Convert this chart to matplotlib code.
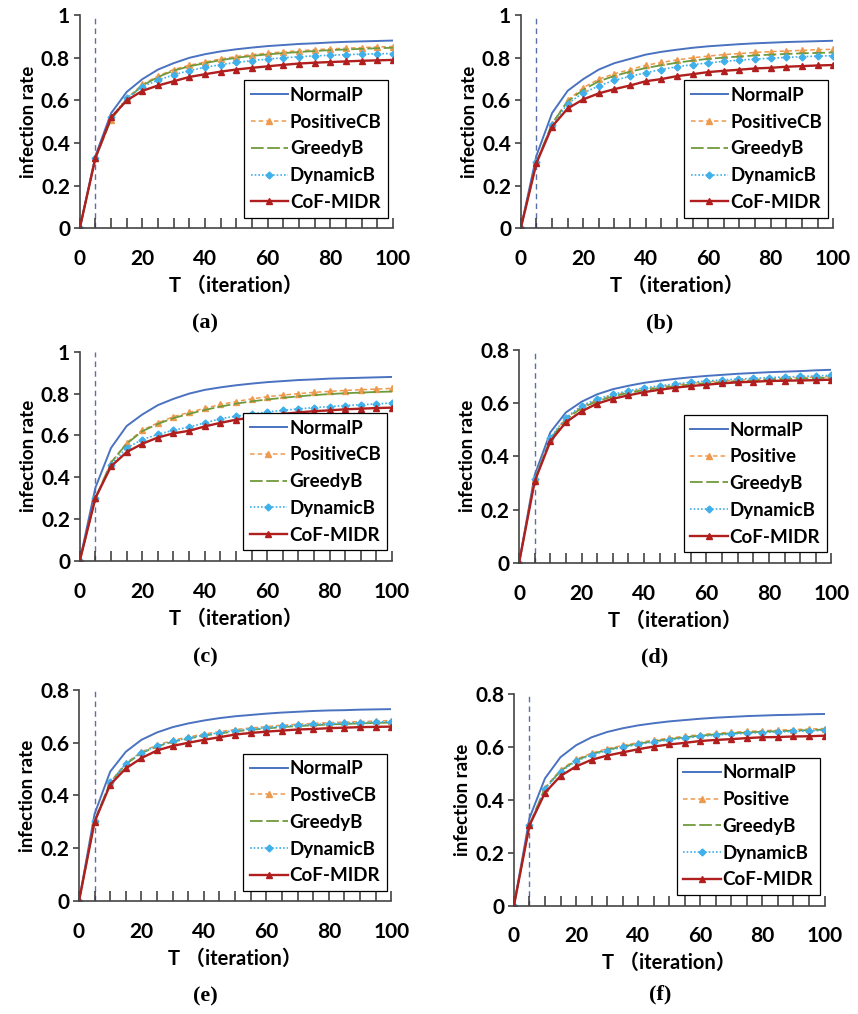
import matplotlib
matplotlib.use("Agg")
import matplotlib.pyplot as plt
from matplotlib.ticker import MultipleLocator

# iteration steps (x)
T = [0, 5, 10, 15, 20, 25, 30, 35, 40, 45, 50, 55, 60, 65, 70, 75, 80, 85, 90, 95, 100]

series_names = ["NormalP", "PositiveCB", "GreedyB", "DynamicB", "CoF-MIDR"]
panel_tags = ["(a)", "(b)", "(c)", "(d)", "(e)", "(f)"]
# second legend entry changes spelling between panels
positive_labels = ["PositiveCB", "PositiveCB", "PositiveCB", "Positive", "PostiveCB", "Positive"]
y_top = [1.0, 1.0, 1.0, 0.8, 0.8, 0.8]

# ---------------- panel (a)
a_normal = [0, 0.34, 0.54, 0.64, 0.70, 0.745, 0.775, 0.80, 0.817, 0.83, 0.84, 0.848, 0.855, 0.86, 0.865, 0.868, 0.872, 0.875, 0.877, 0.879, 0.881]
a_positive = [0, 0.33, 0.51, 0.61, 0.675, 0.715, 0.745, 0.765, 0.78, 0.795, 0.806, 0.815, 0.822, 0.828, 0.833, 0.838, 0.842, 0.845, 0.848, 0.851, 0.853]
a_greedy = [0, 0.33, 0.51, 0.605, 0.67, 0.71, 0.74, 0.76, 0.775, 0.789, 0.80, 0.809, 0.816, 0.822, 0.827, 0.832, 0.836, 0.839, 0.842, 0.845, 0.847]
a_dynamic = [0, 0.33, 0.52, 0.61, 0.665, 0.695, 0.72, 0.74, 0.755, 0.768, 0.778, 0.787, 0.794, 0.80, 0.805, 0.809, 0.812, 0.815, 0.817, 0.819, 0.82]
a_cof = [0, 0.33, 0.52, 0.60, 0.645, 0.67, 0.69, 0.71, 0.723, 0.735, 0.745, 0.753, 0.76, 0.767, 0.773, 0.777, 0.78, 0.783, 0.786, 0.788, 0.79]

# ---------------- panel (b)
b_normal = [0, 0.34, 0.54, 0.645, 0.70, 0.745, 0.775, 0.795, 0.815, 0.828, 0.838, 0.847, 0.854, 0.859, 0.864, 0.868, 0.871, 0.874, 0.876, 0.878, 0.88]
b_positive = [0, 0.31, 0.49, 0.60, 0.66, 0.70, 0.725, 0.745, 0.765, 0.778, 0.79, 0.80, 0.808, 0.815, 0.82, 0.825, 0.829, 0.832, 0.835, 0.838, 0.84]
b_greedy = [0, 0.31, 0.49, 0.595, 0.65, 0.69, 0.715, 0.735, 0.752, 0.765, 0.777, 0.787, 0.795, 0.801, 0.806, 0.811, 0.815, 0.818, 0.821, 0.823, 0.825]
b_dynamic = [0, 0.31, 0.485, 0.585, 0.635, 0.668, 0.695, 0.713, 0.73, 0.745, 0.758, 0.768, 0.776, 0.783, 0.789, 0.794, 0.798, 0.802, 0.805, 0.808, 0.81]
b_cof = [0, 0.305, 0.477, 0.562, 0.605, 0.633, 0.653, 0.67, 0.69, 0.70, 0.714, 0.723, 0.733, 0.739, 0.744, 0.75, 0.753, 0.758, 0.761, 0.764, 0.766]

# ---------------- panel (c)
c_normal = [0, 0.35, 0.54, 0.645, 0.70, 0.745, 0.775, 0.80, 0.818, 0.83, 0.84, 0.848, 0.855, 0.86, 0.865, 0.868, 0.872, 0.874, 0.876, 0.878, 0.88]
c_positive = [0, 0.30, 0.47, 0.565, 0.625, 0.66, 0.69, 0.71, 0.73, 0.748, 0.762, 0.775, 0.785, 0.793, 0.80, 0.806, 0.811, 0.815, 0.819, 0.822, 0.825]
c_greedy = [0, 0.30, 0.47, 0.56, 0.62, 0.655, 0.683, 0.703, 0.722, 0.738, 0.752, 0.763, 0.772, 0.78, 0.787, 0.793, 0.798, 0.802, 0.805, 0.808, 0.81]
c_dynamic = [0, 0.30, 0.46, 0.54, 0.58, 0.605, 0.625, 0.64, 0.66, 0.68, 0.692, 0.703, 0.712, 0.72, 0.727, 0.733, 0.738, 0.743, 0.747, 0.751, 0.755]
c_cof = [0, 0.30, 0.452, 0.52, 0.56, 0.59, 0.61, 0.622, 0.643, 0.66, 0.675, 0.686, 0.695, 0.703, 0.71, 0.716, 0.72, 0.725, 0.728, 0.731, 0.733]

# ---------------- panel (d)
d_normal = [0, 0.33, 0.49, 0.565, 0.605, 0.633, 0.652, 0.665, 0.676, 0.684, 0.691, 0.697, 0.702, 0.706, 0.71, 0.713, 0.716, 0.718, 0.72, 0.723, 0.725]
d_positive = [0, 0.315, 0.468, 0.542, 0.586, 0.612, 0.629, 0.642, 0.653, 0.661, 0.668, 0.674, 0.679, 0.683, 0.686, 0.689, 0.692, 0.694, 0.696, 0.697, 0.699]
d_greedy = [0, 0.315, 0.465, 0.538, 0.582, 0.607, 0.625, 0.638, 0.649, 0.657, 0.664, 0.67, 0.675, 0.679, 0.682, 0.685, 0.688, 0.69, 0.692, 0.694, 0.695]
d_dynamic = [0, 0.315, 0.47, 0.545, 0.59, 0.615, 0.633, 0.646, 0.657, 0.665, 0.672, 0.678, 0.683, 0.687, 0.69, 0.693, 0.696, 0.698, 0.70, 0.702, 0.704]
d_cof = [0, 0.306, 0.456, 0.528, 0.569, 0.598, 0.616, 0.629, 0.641, 0.65, 0.658, 0.664, 0.669, 0.674, 0.678, 0.68, 0.683, 0.684, 0.685, 0.686, 0.688]

# ---------------- panel (e)
e_normal = [0, 0.33, 0.49, 0.565, 0.61, 0.638, 0.658, 0.672, 0.683, 0.692, 0.699, 0.704, 0.709, 0.713, 0.716, 0.719, 0.721, 0.722, 0.724, 0.725, 0.726]
e_positive = [0, 0.305, 0.45, 0.522, 0.565, 0.59, 0.608, 0.621, 0.632, 0.641, 0.649, 0.655, 0.66, 0.665, 0.669, 0.672, 0.675, 0.677, 0.679, 0.681, 0.683]
e_greedy = [0, 0.305, 0.448, 0.518, 0.56, 0.585, 0.603, 0.615, 0.626, 0.634, 0.642, 0.648, 0.653, 0.658, 0.662, 0.665, 0.668, 0.67, 0.672, 0.674, 0.675]
e_dynamic = [0, 0.305, 0.45, 0.52, 0.562, 0.587, 0.605, 0.617, 0.628, 0.637, 0.645, 0.651, 0.656, 0.661, 0.665, 0.668, 0.671, 0.673, 0.675, 0.677, 0.679]
e_cof = [0, 0.30, 0.441, 0.502, 0.541, 0.57, 0.587, 0.599, 0.61, 0.62, 0.63, 0.636, 0.641, 0.645, 0.649, 0.651, 0.654, 0.656, 0.658, 0.659, 0.66]

# ---------------- panel (f)
f_normal = [0, 0.33, 0.48, 0.56, 0.605, 0.635, 0.655, 0.669, 0.68, 0.688, 0.695, 0.70, 0.705, 0.709, 0.712, 0.715, 0.717, 0.719, 0.72, 0.722, 0.723]
f_positive = [0, 0.305, 0.445, 0.512, 0.552, 0.575, 0.592, 0.604, 0.615, 0.624, 0.632, 0.639, 0.645, 0.65, 0.654, 0.657, 0.66, 0.662, 0.664, 0.666, 0.668]
f_greedy = [0, 0.305, 0.443, 0.508, 0.548, 0.571, 0.588, 0.6, 0.611, 0.62, 0.628, 0.635, 0.641, 0.646, 0.65, 0.653, 0.656, 0.658, 0.66, 0.662, 0.664]
f_dynamic = [0, 0.305, 0.44, 0.505, 0.545, 0.568, 0.585, 0.597, 0.608, 0.617, 0.625, 0.632, 0.638, 0.643, 0.647, 0.65, 0.653, 0.655, 0.657, 0.659, 0.661]
f_cof = [0, 0.302, 0.426, 0.489, 0.525, 0.55, 0.566, 0.578, 0.59, 0.60, 0.608, 0.614, 0.621, 0.625, 0.628, 0.632, 0.635, 0.636, 0.638, 0.639, 0.641]

panels = [
    [a_normal, a_positive, a_greedy, a_dynamic, a_cof],
    [b_normal, b_positive, b_greedy, b_dynamic, b_cof],
    [c_normal, c_positive, c_greedy, c_dynamic, c_cof],
    [d_normal, d_positive, d_greedy, d_dynamic, d_cof],
    [e_normal, e_positive, e_greedy, e_dynamic, e_cof],
    [f_normal, f_positive, f_greedy, f_dynamic, f_cof],
]

# line styles per series: color, linestyle, marker, linewidth
styles = [
    dict(color="#4a72c0", ls="-", marker=None, lw=1.4),
    dict(color="#ee9a4e", ls=(0, (3, 2)), marker="^", lw=1.1),
    dict(color="#6f9a3c", ls=(0, (7, 2)), marker=None, lw=1.3),
    dict(color="#3fb0ea", ls=(0, (1, 1.2)), marker="D", lw=1.2),
    dict(color="#b01e1e", ls="-", marker="^", lw=1.7),
]

# axes rectangles [left, bottom, width, height] in figure fraction
rects = [
    [0.093, 0.775, 0.365, 0.210],
    [0.607, 0.775, 0.364, 0.210],
    [0.093, 0.447, 0.364, 0.206],
    [0.605, 0.445, 0.364, 0.210],
    [0.092, 0.111, 0.364, 0.209],
    [0.599, 0.107, 0.362, 0.209],
]
caption_pos = [(0.239, 0.681), (0.769, 0.681), (0.239, 0.352), (0.763, 0.352), (0.239, 0.017), (0.769, 0.019)]

fam = ["Lato", "Noto Sans CJK SC", "DejaVu Sans"]
plt.rcParams["font.family"] = fam
plt.rcParams["font.weight"] = "bold"

fig = plt.figure(figsize=(8.58, 10.14), dpi=100)

for i in range(6):
    ax = fig.add_axes(rects[i])
    data = panels[i]
    labels = list(series_names)
    labels[1] = positive_labels[i]

    # dashed marker line at T=5
    ax.axvline(5, color="#5a6ea8", ls=(0, (4, 3)), lw=1.0, zorder=1)

    for k in range(5):
        st = styles[k]
        ms = 4.5 if st["marker"] == "^" else 3.5
        ax.plot(T, data[k], color=st["color"], ls=st["ls"], lw=st["lw"],
                marker=st["marker"], ms=ms, markeredgecolor=st["color"],
                label=labels[k], zorder=2 + k * 0.1 if k < 4 else 3)

    ax.set_xlim(0, 100)
    ax.set_ylim(0, y_top[i])
    ax.spines["top"].set_visible(False)
    ax.spines["right"].set_visible(False)
    ax.spines["left"].set_color("#444444")
    ax.spines["bottom"].set_color("#444444")
    ax.spines["left"].set_linewidth(1.2)
    ax.spines["bottom"].set_linewidth(1.2)
    ax.spines["bottom"].set_zorder(5)

    ax.xaxis.set_major_locator(MultipleLocator(20))
    ax.xaxis.set_minor_locator(MultipleLocator(5))
    ax.tick_params(axis="x", which="both", direction="in", length=7, width=1.1,
                   color="#333333", pad=15, labelsize=15)
    ax.tick_params(axis="y", which="major", direction="out", length=4, width=1.1,
                   color="#333333", pad=3, labelsize=15)
    steps = list(range(0, int(round(y_top[i] * 10)) + 1, 2))
    ax.set_yticks([v / 10 for v in steps])
    ax.set_yticklabels(["0" if v == 0 else ("1" if v == 10 else "0.%d" % v) for v in steps])
    for lab in ax.get_xticklabels() + ax.get_yticklabels():
        lab.set_fontweight("bold")

    ax.set_xlabel("T （iteration）", fontsize=14.5, fontweight="bold", labelpad=5)
    ax.set_ylabel("infection rate", fontsize=13.5, fontweight="bold", labelpad=3)

    leg = ax.legend(loc="lower right", bbox_to_anchor=(0.985, 0.05), frameon=True,
                    fancybox=False, edgecolor="black", framealpha=1,
                    prop=dict(family=fam, weight="bold", size=13.5),
                    handlelength=2.0, handletextpad=0.1, labelspacing=0.52,
                    borderpad=0.35, borderaxespad=0)
    leg.get_frame().set_linewidth(0.9)

    fig.text(caption_pos[i][0], caption_pos[i][1], panel_tags[i], ha="center", va="center",
             family="Liberation Serif", fontsize=16, fontweight="bold")

fig.savefig("out.png", dpi=100)
